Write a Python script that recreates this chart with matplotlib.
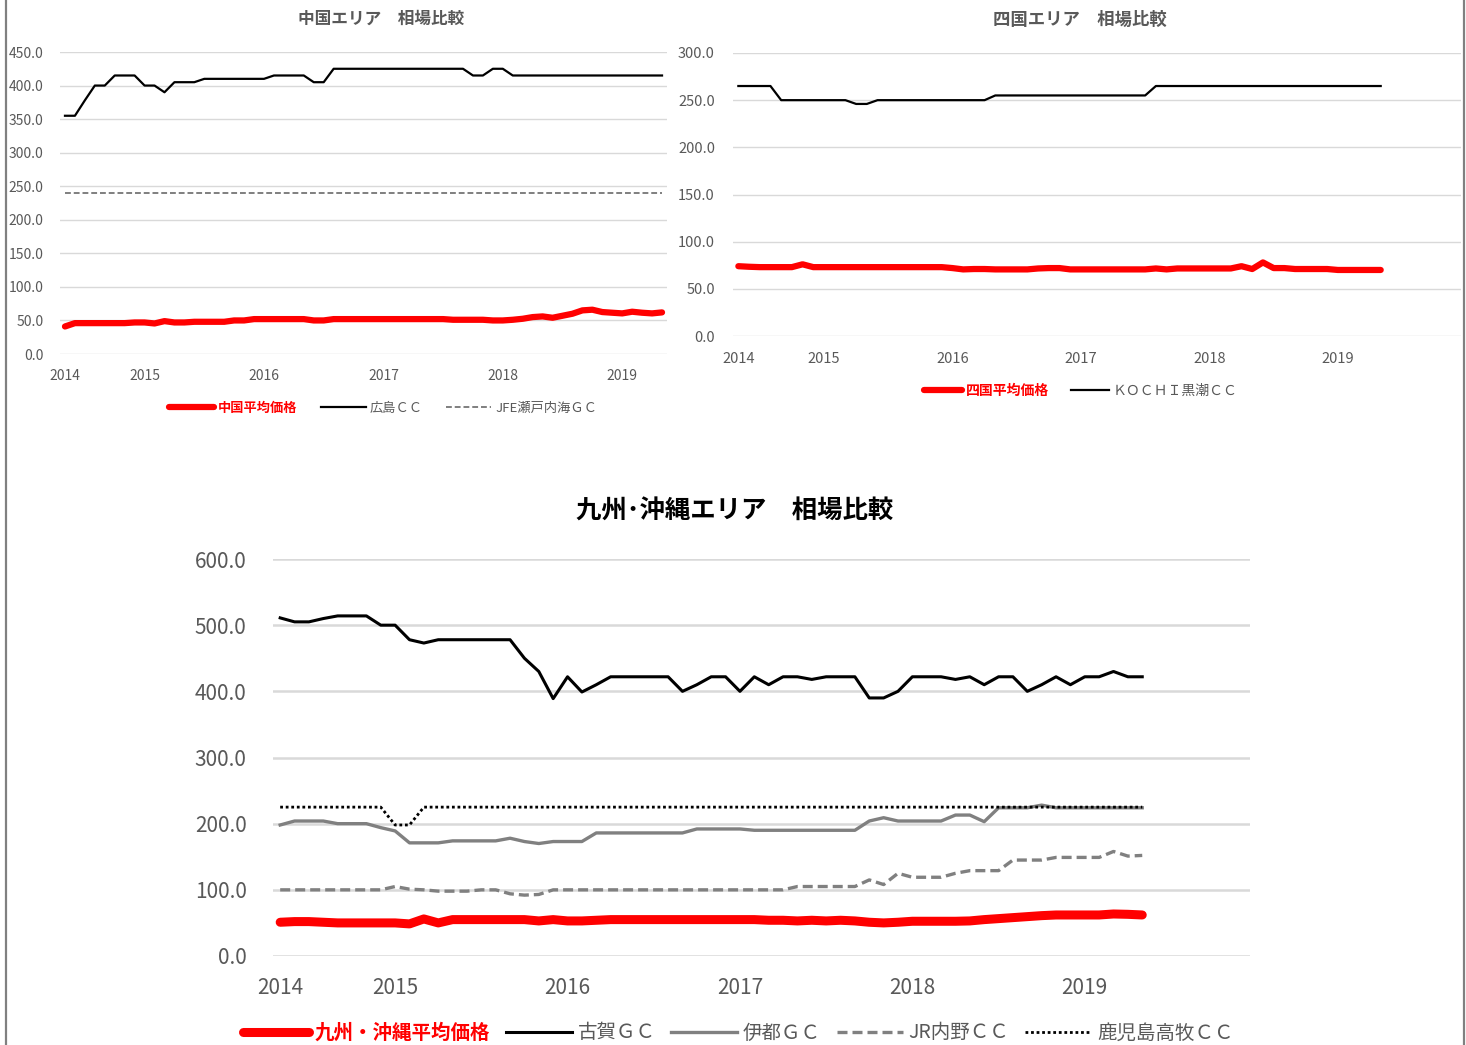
import matplotlib
matplotlib.use("Agg")
import matplotlib.pyplot as plt
from matplotlib.lines import Line2D
import pandas as pd

plt.rcParams['font.family'] = ['Noto Sans CJK JP', 'DejaVu Sans']

# ---------------- data ----------------
months = pd.period_range('2014-05', periods=61, freq='M')

# 中国エリア
chugoku_avg = [41, 46, 46, 46, 46, 46, 46, 47, 47, 45.5, 49, 47, 47, 48, 48, 48, 48, 50, 50, 52,
               52, 52, 52, 52, 52, 50, 50, 52, 52, 52, 52, 52, 52, 52, 52, 52, 52, 52, 52, 51,
               51, 51, 51, 50, 50, 51, 52.5, 55, 56, 54, 57, 60, 65, 66, 62.5, 61.5, 60.5, 63, 61.5, 60.5,
               62]
hiroshima = [355, 355, 378, 400, 400, 415, 415, 415, 400, 400, 390, 405, 405, 405, 410, 410, 410, 410, 410, 410,
             410, 415, 415, 415, 415, 405, 405, 425, 425, 425, 425, 425, 425, 425, 425, 425, 425, 425, 425, 425,
             425, 415, 415, 425, 425, 415, 415, 415, 415, 415, 415, 415, 415, 415, 415, 415, 415, 415, 415, 415,
             415]
jfe_setouchi = [240] * 61

# 四国エリア
shikoku_avg = [74, 73.4, 73, 73, 73, 73, 76, 73, 73, 73, 73, 73, 73, 73, 73, 73, 73, 73, 73, 73,
               72, 70.6, 71, 71, 70.6, 70.6, 70.6, 70.6, 71.6, 72, 72, 70.6, 70.6, 70.6, 70.6, 70.6, 70.6, 70.6, 70.6, 71.6,
               70.6, 71.6, 71.6, 71.6, 71.6, 71.6, 71.6, 74, 71, 78, 72, 72, 71, 71, 71, 71, 70, 70, 70, 70,
               70]
kochi_kuroshio = [265, 265, 265, 265, 250, 250, 250, 250, 250, 250, 250, 246, 246, 250, 250, 250, 250, 250, 250, 250,
                  250, 250, 250, 250, 255, 255, 255, 255, 255, 255, 255, 255, 255, 255, 255, 255, 255, 255, 255, 265,
                  265, 265, 265, 265, 265, 265, 265, 265, 265, 265, 265, 265, 265, 265, 265, 265, 265, 265, 265, 265,
                  265]

# 九州・沖縄エリア
kyushu_avg = [51, 52, 52, 51, 50, 50, 50, 50, 50, 48.5, 56, 50, 55, 55, 55, 55, 55, 55, 53, 55,
              53, 53, 54, 55, 55, 55, 55, 55, 55, 55, 55, 55, 55, 55, 54, 54, 53, 54, 53, 54,
              53, 51, 50, 51, 52.5, 52.5, 52.5, 52.5, 53, 55, 56.5, 58, 59.5, 61, 62, 62, 62, 62, 63.5, 63,
              62]
koga = [511, 505, 505, 510, 514, 514, 514, 500, 500, 478, 473, 478, 478, 478, 478, 478, 478, 450, 430, 389,
        422, 399, 410, 422, 422, 422, 422, 422, 400, 410, 422, 422, 400, 422, 410, 422, 422, 418, 422, 422,
        422, 390, 390, 400, 422, 422, 422, 418, 422, 410, 422, 422, 400, 410, 422, 410, 422, 422, 430, 422,
        422]
ito = [198, 204, 204, 204, 200, 200, 200, 194, 189, 171, 171, 171, 174, 174, 174, 174, 178, 173, 170, 173,
       173, 173, 186, 186, 186, 186, 186, 186, 186, 192, 192, 192, 192, 190, 190, 190, 190, 190, 190, 190,
       190, 204, 209, 204, 204, 204, 204, 213, 213, 203, 224, 224, 224, 228, 224, 224, 224, 224, 224, 224,
       224]
jr_uchino = [100, 100, 100, 100, 100, 100, 100, 100, 105, 101, 100, 98, 98, 98, 100, 100, 94, 92, 93, 100,
             100, 100, 100, 100, 100, 100, 100, 100, 100, 100, 100, 100, 100, 100, 100, 100, 105, 105, 105, 105,
             105, 115, 108, 125, 119, 119, 119, 125, 129, 129, 129, 145, 145, 145, 149, 149, 149, 149, 158, 151,
             152]
kagoshima_takamaki = [225, 225, 225, 225, 225, 225, 225, 225, 198, 198] + [225] * 51

tick_years = ["2014", "2015", "2016", "2017", "2018", "2019"]

# ---------------- styling helpers ----------------
GRID = '#d9d9d9'
TXT = '#595959'

W, H = 1466, 1045
fig = plt.figure(figsize=(W / 100, H / 100), dpi=100)


def px_axes(x0, x1, ytop, ybot):
    return fig.add_axes([x0 / W, (H - ybot) / H, (x1 - x0) / W, (ybot - ytop) / H])


x = list(range(len(months)))
tick_pos = [i for i, m in enumerate(months) if i == 0 or m.month == 1]


def style(ax, ymax, ystep, ncat, fs, ypad, xpad, gw):
    ax.set_xlim(-0.5, ncat - 0.5)
    ax.set_ylim(0, ymax)
    ax.set_yticks([v for v in range(0, ymax + 1, ystep)])
    ax.set_yticklabels([f"{v:.1f}" for v in range(0, ymax + 1, ystep)])
    ax.set_xticks(tick_pos)
    ax.set_xticklabels(tick_years)
    for s in ax.spines.values():
        s.set_visible(False)
    ax.tick_params(length=0, labelsize=fs, labelcolor=TXT)
    ax.tick_params(axis='y', pad=ypad)
    ax.tick_params(axis='x', pad=xpad)
    ax.yaxis.grid(True, color=GRID, linewidth=gw)
    ax.set_axisbelow(True)


# ---- 中国 ----
ax1 = px_axes(60, 667, 52, 354)
style(ax1, 450, 50, 61, 10, 12, 11, 1.0)
l1, = ax1.plot(x, chugoku_avg, color='#ff0000', lw=4.5, solid_capstyle='round', zorder=5)
l2, = ax1.plot(x, hiroshima, color='black', lw=1.6)
l3, = ax1.plot(x, jfe_setouchi, color='#7f7f7f', lw=1.4, ls=(0, (3, 1.5)))
fig.text(381 / W, 1 - 19 / H, "中国エリア　相場比較", ha='center', va='center', fontsize=12,
         fontweight='bold', color=TXT)
leg = fig.legend([l1, l2, l3], ["中国平均価格", "広島ＣＣ", "JFE瀬戸内海ＧＣ"], loc='center',
                 bbox_to_anchor=(383 / W, 1 - 408 / H), ncol=3, frameon=False, fontsize=9.5,
                 handlelength=3.4, handletextpad=0.3, columnspacing=1.8)
for t, c, b in zip(leg.get_texts(), ['#ff0000', TXT, TXT], ['bold', 'normal', 'normal']):
    t.set_color(c)
    t.set_fontweight(b)

# ---- 四国 ----
ax2 = px_axes(733, 1461, 53, 336)
style(ax2, 300, 50, 68, 10.5, 13, 11.5, 1.0)
m1, = ax2.plot(x, shikoku_avg, color='#ff0000', lw=4.5, solid_capstyle='round', zorder=5)
m2, = ax2.plot(x, kochi_kuroshio, color='black', lw=1.6)
fig.text(1080 / W, 1 - 20 / H, "四国エリア　相場比較", ha='center', va='center', fontsize=12.5,
         fontweight='bold', color=TXT)
leg2 = fig.legend([m1, m2], ["四国平均価格", "ＫＯＣＨＩ黒潮ＣＣ"], loc='center',
                  bbox_to_anchor=(1081 / W, 1 - 391 / H), ncol=2, frameon=False, fontsize=10,
                  handlelength=2.7, handletextpad=0.3, columnspacing=1.6)
for t, c, b in zip(leg2.get_texts(), ['#ff0000', TXT], ['bold', 'normal']):
    t.set_color(c)
    t.set_fontweight(b)

# ---- 九州・沖縄 ----
ax3 = px_axes(273, 1250, 559, 956)
style(ax3, 600, 100, 68, 15, 19, 15, 1.8)
k1, = ax3.plot(x, kyushu_avg, color='#ff0000', lw=6.5, solid_capstyle='round', zorder=6)
k2, = ax3.plot(x, koga, color='black', lw=2.2)
k3, = ax3.plot(x, ito, color='#808080', lw=2.4)
k4, = ax3.plot(x, jr_uchino, color='#808080', lw=2.4, ls=(0, (3, 1.5)))
k5, = ax3.plot(x, kagoshima_takamaki, color='black', lw=2.0, ls=(0, (1, 1)))
fig.text(735 / W, 1 - 511 / H, "九州･沖縄エリア　相場比較", ha='center', va='center', fontsize=18.3,
         fontweight='bold', color='black')
leg3 = fig.legend([k1, k2, k3, k4, k5],
                  ["九州・沖縄平均価格", "古賀ＧＣ", "伊都ＧＣ", "JR内野ＣＣ", "鹿児島高牧ＣＣ"],
                  loc='center', bbox_to_anchor=(738 / W, 1 - 1033 / H), ncol=5, frameon=False,
                  fontsize=14, handlelength=3.4, handletextpad=0.3, columnspacing=0.8)
for t, c, b in zip(leg3.get_texts(), ['#ff0000', TXT, TXT, TXT, TXT],
                   ['bold', 'normal', 'normal', 'normal', 'normal']):
    t.set_color(c)
    t.set_fontweight(b)

# frame borders
fig.add_artist(Line2D([6 / W, 6 / W], [0, 1], color='#808080', lw=1.6, transform=fig.transFigure))
fig.add_artist(Line2D([1464 / W, 1464 / W], [0, 1], color='#808080', lw=1.6, transform=fig.transFigure))

fig.savefig("out.png", dpi=100, facecolor='white')
